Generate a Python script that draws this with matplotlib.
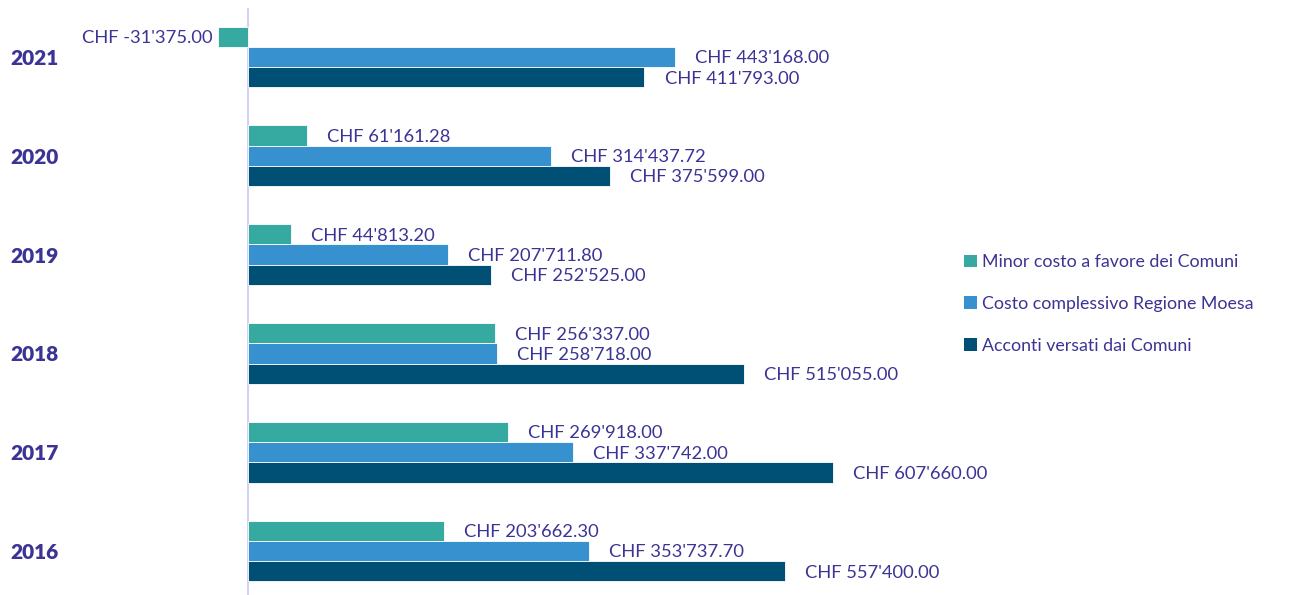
import matplotlib
matplotlib.use("Agg")
import matplotlib.pyplot as plt
from matplotlib.patches import Patch
from matplotlib.transforms import blended_transform_factory
import numpy as np

years = ["2016", "2017", "2018", "2019", "2020", "2021"]
minor_costo = [203662.30, 269918.00, 256337.00, 44813.20, 61161.28, -31375.00]
costo_complessivo = [353737.70, 337742.00, 258718.00, 207711.80, 314437.72, 443168.00]
acconti = [557400.00, 607660.00, 515055.00, 252525.00, 375599.00, 411793.00]
series_names = ["Minor costo a favore dei Comuni",
                "Costo complessivo Regione Moesa",
                "Acconti versati dai Comuni"]
colors = ["#36AAA0", "#3891CF", "#004F74"]
text_color = "#3B3494"

def fmt(v):
    s = f"{abs(v):,.2f}".replace(",", "'")
    return f"CHF {'-' if v < 0 else ''}{s}"

plt.rcParams['font.family'] = ['Lato', 'DejaVu Sans']

W, H = 1290, 595
fig = plt.figure(figsize=(W / 100, H / 100), dpi=100)
ax_right_px = 940
ax = fig.add_axes([0, 0, ax_right_px / W, (H - 8) / H])

scale = 585 / 607660.0  # px per unit
x0_px = 248
ax.set_xlim(-x0_px / scale, (ax_right_px - x0_px) / scale)
ax.set_ylim(-0.445, 5.496)

bh = 0.205
y = np.arange(len(years))
all_series = [minor_costo, costo_complessivo, acconti]
offsets = [bh, 0, -bh]
lab_fs = 13.2
for vals, c, off, name in zip(all_series, colors, offsets, series_names):
    ax.barh(y + off, vals, height=bh, color=c, edgecolor='white', linewidth=0.6, label=name)
    for yi, v in zip(y, vals):
        if v >= 0:
            ax.annotate(fmt(v), (v, yi + off), xytext=(14.5, -1), textcoords='offset points',
                        ha='left', va='center', fontsize=lab_fs, color=text_color)
        else:
            ax.annotate(fmt(v), (v, yi + off), xytext=(-3.5, -1), textcoords='offset points',
                        ha='right', va='center', fontsize=lab_fs, color=text_color)

ax.axvline(0, color='#D4D0F2', linewidth=1.5, zorder=0)
for s in ax.spines.values():
    s.set_visible(False)
ax.set_xticks([])
ax.set_yticks([])

tr = blended_transform_factory(fig.transFigure, ax.transData)
for yi, yr in zip(y, years):
    ax.text(10 / W, yi, yr, transform=tr, ha='left', va='center_baseline', fontsize=15,
            fontweight='heavy', color=text_color)

handles = [Patch(facecolor=c, edgecolor='none') for c in colors]
leg = fig.legend(handles, series_names, loc='center left', bbox_to_anchor=(955 / W, 1 - 304 / H),
                 frameon=False, fontsize=12.8, handlelength=0.72, handleheight=0.72,
                 handletextpad=0.3, labelspacing=1.45, borderpad=0)
for t in leg.get_texts():
    t.set_color(text_color)

fig.savefig("out.png", dpi=100, facecolor='white')
